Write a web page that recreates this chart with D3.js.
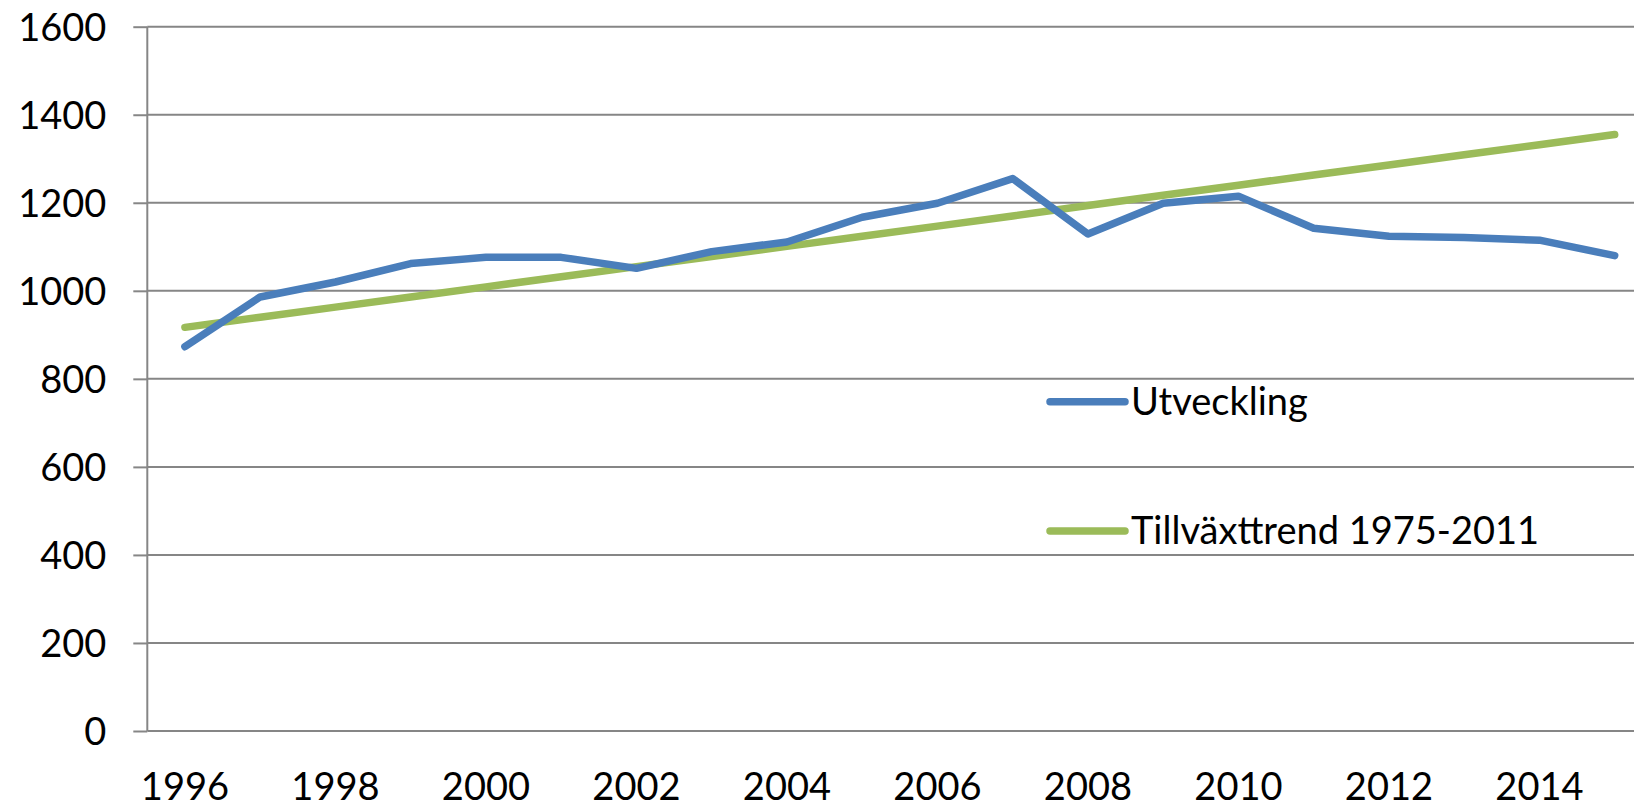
<!DOCTYPE html>
<html>
<head>
<meta charset="utf-8">
<script src="https://cdn.jsdelivr.net/npm/d3@7"></script>
<style>
  body { margin: 0; background: #fff; }
  svg { display: block; font-family: Lato, "Open Sans", sans-serif; }
</style>
</head>
<body>
<svg id="chart" width="1634" height="806"></svg>
<script>
const years = [1996, 1997, 1998, 1999, 2000, 2001, 2002, 2003, 2004, 2005,
  2006, 2007, 2008, 2009, 2010, 2011, 2012, 2013, 2014, 2015];
const utveckling = [873, 986, 1020, 1062, 1076, 1076, 1051, 1089, 1111, 1167,
  1199, 1255, 1129, 1199, 1215, 1142, 1124, 1121, 1115, 1080];
const trend = [917, 940, 963, 986, 1009, 1032, 1055, 1078, 1101, 1124,
  1147, 1170, 1194, 1217, 1240, 1263, 1286, 1309, 1332, 1355];
const yTicks = [0, 200, 400, 600, 800, 1000, 1200, 1400, 1600];
const xLabels = [1996, 1998, 2000, 2002, 2004, 2006, 2008, 2010, 2012, 2014];
const seriesNames = ["Utveckling", "Tillväxttrend 1975-2011"];

const width = 1634,
  plotLeft = 147.3,
  plotTop = 26.7,
  plotBottom = 731,
  step = 75.25,
  gridColor = "#868686",
  colors = ["#4a7ebb", "#9bbb59"],
  fontSize = 38;

const svg = d3.select("#chart");

const x = d3.scaleBand()
  .domain(years)
  .range([plotLeft, plotLeft + years.length * step]);
const y = d3.scaleLinear().domain([0, 1600]).range([plotBottom, plotTop]);
const cx = d => x(d) + x.bandwidth() / 2;

// grid
svg.append("g")
  .selectAll("line")
  .data(yTicks)
  .enter()
  .append("line")
  .attr("x1", plotLeft)
  .attr("x2", width)
  .attr("y1", d => y(d))
  .attr("y2", d => y(d))
  .attr("stroke", gridColor)
  .attr("stroke-width", 2);

// y axis
const yAxis = svg.append("g")
  .attr("transform", `translate(${plotLeft},0)`)
  .call(d3.axisLeft(y).tickValues(yTicks).tickSize(14).tickPadding(27).tickFormat(d3.format("d")));
yAxis.select(".domain").remove();
yAxis.selectAll(".tick line").attr("stroke", gridColor).attr("stroke-width", 2);
yAxis.selectAll("text")
  .attr("font-size", fontSize)
  .attr("font-family", "Lato, 'Open Sans', sans-serif")
  .attr("fill", "#000")
  .attr("dy", "0.36em");

svg.append("line")
  .attr("x1", plotLeft).attr("x2", plotLeft)
  .attr("y1", plotTop).attr("y2", plotBottom)
  .attr("stroke", gridColor)
  .attr("stroke-width", 2);

// x axis
const xAxis = svg.append("g")
  .attr("transform", `translate(0,${plotBottom})`)
  .call(d3.axisBottom(x).tickValues(xLabels).tickSize(0).tickPadding(42));
xAxis.select(".domain").remove();
xAxis.selectAll("text")
  .attr("font-size", fontSize)
  .attr("font-family", "Lato, 'Open Sans', sans-serif")
  .attr("fill", "#000");

// lines
const line = d3.line()
  .x((d, i) => cx(years[i]))
  .y(d => y(d));

[trend, utveckling].forEach((s, k) => {
  svg.append("path")
    .datum(s)
    .attr("d", line)
    .attr("fill", "none")
    .attr("stroke", colors[k === 0 ? 1 : 0])
    .attr("stroke-width", 7.5)
    .attr("stroke-linejoin", "round")
    .attr("stroke-linecap", "round");
});

// legend
const legendY = [401.7, 531];
const legend = svg.append("g")
  .selectAll("g")
  .data(seriesNames)
  .enter()
  .append("g")
  .attr("transform", (d, i) => `translate(1050,${legendY[i]})`);

legend.append("line")
  .attr("x1", 0).attr("x2", 75)
  .attr("stroke", (d, i) => colors[i])
  .attr("stroke-width", 7.5)
  .attr("stroke-linecap", "round");

legend.append("text")
  .attr("x", 81)
  .attr("y", 13)
  .attr("font-size", fontSize)
  .attr("fill", "#000")
  .text(d => d);
</script>
</body>
</html>
